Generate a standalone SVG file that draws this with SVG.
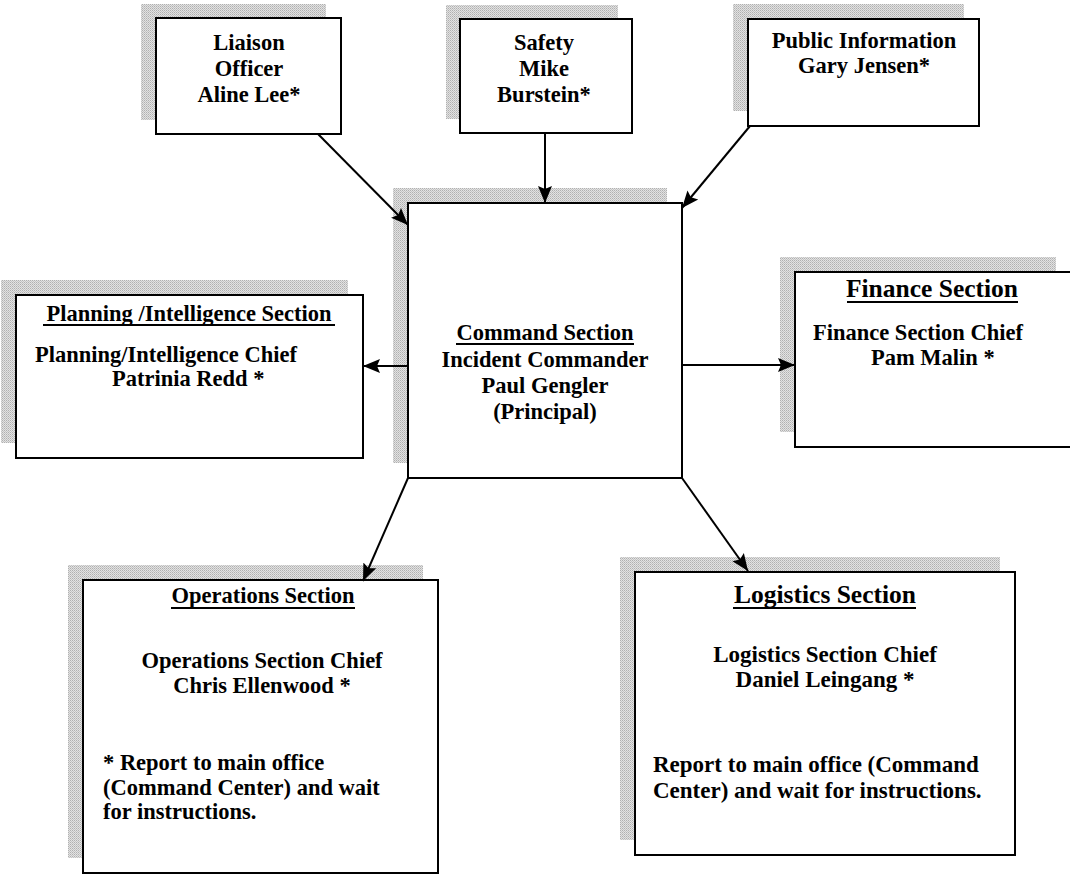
<svg xmlns="http://www.w3.org/2000/svg" width="1070" height="877" viewBox="0 0 1070 877">
  <defs>
    <pattern id="dots" width="2" height="2" patternUnits="userSpaceOnUse">
      <rect width="2" height="2" fill="#e2e2e2"/>
      <rect x="0" y="0" width="1" height="1" fill="#b0b0b0"/>
      <rect x="1" y="1" width="1" height="1" fill="#c4c4c4"/>
    </pattern>
    <marker id="arrow" markerUnits="userSpaceOnUse" markerWidth="20" markerHeight="16" refX="17" refY="8" orient="auto">
      <path d="M0,1 L17,8 L0,15 L3,8 z" fill="#000"/>
    </marker>
    <style>
      .shadow { fill: url(#dots); stroke: none; }
      .box { fill: #fff; stroke: #000; stroke-width: 2; }
      .t { font-family: "Liberation Serif", "Times New Roman", serif; font-weight: bold; font-size: 22.5px; fill: #000; }
      .c { text-anchor: middle; }
      .big { font-size: 25.5px; }
      .ul { stroke: #000; stroke-width: 2; }
      .conn { stroke: #000; stroke-width: 2; fill: none; marker-end: url(#arrow); }
    </style>
  </defs>
  <rect width="1070" height="877" fill="#fff"/>

  <g id="liaison">
    <rect class="shadow" x="141" y="4" width="185" height="116"/>
    <rect class="box" x="156" y="18" width="185" height="116"/>
    <text class="t c" x="249" y="50">Liaison</text>
    <text class="t c" x="249" y="76">Officer</text>
    <text class="t c" x="249" y="102">Aline Lee*</text>
  </g>

  <g id="safety">
    <rect class="shadow" x="446" y="5" width="172" height="114"/>
    <rect class="box" x="460" y="19" width="172" height="114"/>
    <text class="t c" x="544" y="50">Safety</text>
    <text class="t c" x="544" y="76">Mike</text>
    <text class="t c" x="544" y="102">Burstein*</text>
  </g>

  <g id="public-information">
    <rect class="shadow" x="733" y="4" width="231" height="107"/>
    <rect class="box" x="748" y="19" width="231" height="107"/>
    <text class="t c" x="864" y="48">Public Information</text>
    <text class="t c" x="864" y="73">Gary Jensen*</text>
  </g>

  <g id="planning">
    <rect class="shadow" x="1" y="280" width="347" height="163"/>
    <rect class="box" x="16" y="295" width="347" height="163"/>
    <text class="t c" x="189" y="321">Planning /Intelligence Section</text>
    <line class="ul" x1="43" y1="325" x2="335" y2="325"/>
    <text class="t" x="35" y="362">Planning/Intelligence Chief</text>
    <text class="t" x="112" y="386">Patrinia Redd *</text>
  </g>

  <g id="command">
    <rect class="shadow" x="393" y="188" width="274" height="275"/>
    <rect class="box" x="408" y="203" width="274" height="275"/>
    <text class="t c" x="545" y="340">Command Section</text>
    <line class="ul" x1="456" y1="344" x2="634" y2="344"/>
    <text class="t c" x="545" y="367">Incident Commander</text>
    <text class="t c" x="545" y="393">Paul Gengler</text>
    <text class="t c" x="545" y="419">(Principal)</text>
  </g>

  <g id="finance">
    <rect class="shadow" x="780" y="257" width="276" height="175"/>
    <rect class="box" x="795" y="272" width="278" height="175"/>
    <text class="t c big" x="932" y="297">Finance Section</text>
    <line class="ul" x1="847" y1="302" x2="1018" y2="302"/>
    <text class="t" x="813" y="340">Finance Section Chief</text>
    <text class="t" x="871" y="365">Pam Malin *</text>
  </g>

  <g id="operations">
    <rect class="shadow" x="68" y="565" width="355" height="293"/>
    <rect class="box" x="83" y="580" width="355" height="293"/>
    <text class="t c" x="263" y="603">Operations Section</text>
    <line class="ul" x1="171" y1="608" x2="355" y2="608"/>
    <text class="t c" x="262" y="668">Operations Section Chief</text>
    <text class="t c" x="262" y="693">Chris Ellenwood *</text>
    <text class="t" x="103" y="770">* Report to main office</text>
    <text class="t" x="103" y="795">(Command Center) and wait</text>
    <text class="t" x="103" y="819">for instructions.</text>
  </g>

  <g id="logistics">
    <rect class="shadow" x="620" y="557" width="380" height="283"/>
    <rect class="box" x="635" y="572" width="380" height="283"/>
    <text class="t c big" x="825" y="603">Logistics Section</text>
    <line class="ul" x1="733" y1="608" x2="916" y2="608"/>
    <text class="t c" x="825" y="662" style="font-size:23px">Logistics Section Chief</text>
    <text class="t c" x="825" y="687" style="font-size:23px">Daniel Leingang *</text>
    <text class="t" x="653" y="772" style="font-size:23px">Report to main office (Command</text>
    <text class="t" x="653" y="798" style="font-size:23px">Center) and wait for instructions.</text>
  </g>

  <g id="connectors">
    <line class="conn" x1="318" y1="134" x2="408" y2="225"/>
    <line class="conn" x1="545" y1="133" x2="545" y2="203"/>
    <line class="conn" x1="750" y1="126" x2="682" y2="208"/>
    <line class="conn" x1="408" y1="366" x2="363" y2="366"/>
    <line class="conn" x1="682" y1="365" x2="795" y2="365"/>
    <line class="conn" x1="408" y1="478" x2="363" y2="581"/>
    <line class="conn" x1="682" y1="478" x2="748" y2="571"/>
  </g>
</svg>
